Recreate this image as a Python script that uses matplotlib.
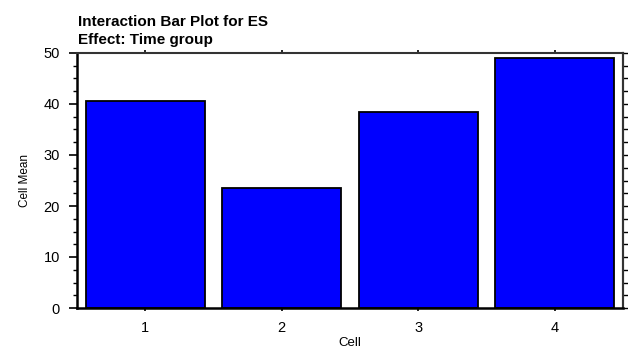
import matplotlib
matplotlib.use("Agg")
import matplotlib.pyplot as plt
from matplotlib.ticker import MultipleLocator

cells = ["1", "2", "3", "4"]
means = [40.55, 23.45, 38.35, 48.95]
yticks = [0, 10, 20, 30, 40, 50]
title_lines = ["Interaction Bar Plot for ES", "Effect: Time group"]

plt.rcParams['font.family'] = ['Liberation Sans', 'DejaVu Sans']

W, H = 628, 350
fig = plt.figure(figsize=(W/100, H/100), dpi=100)
ax = fig.add_axes([77/W, 42/H, 546/W, 255/H])
x = list(range(1, len(cells) + 1))
ax.bar(x, means, width=0.87, color="#0000ff", edgecolor="black", linewidth=1.3)
ax.set_xlim(0.5, 4.5)
ax.set_ylim(0, 50)
ax.set_xticks(x)
ax.set_xticklabels(cells)
ax.set_yticks(yticks)
ax.yaxis.set_minor_locator(MultipleLocator(2.5))
ax.tick_params(axis='y', which='major', direction='out', length=5.8, width=1.2,
               labelsize=10.5, left=True, right=False, pad=6.5)
ax.tick_params(axis='y', which='minor', direction='out', length=3, width=1.0,
               left=True, right=False)
ax.tick_params(axis='x', which='major', direction='out', length=2.5, width=1.2,
               labelsize=10.5, top=True, bottom=True, pad=6.5)
sec = ax.secondary_yaxis('right')
sec.set_yticks(yticks)
sec.yaxis.set_minor_locator(MultipleLocator(2.5))
sec.tick_params(axis='y', which='both', direction='out', length=3.6, width=1.0,
                labelright=False)
sec.spines['right'].set_linewidth(1.5)
sec.spines['right'].set_color('#333333')
for s in ['left', 'bottom']:
    ax.spines[s].set_linewidth(1.8)
    ax.spines[s].set_color('black')
for s in ['top', 'right']:
    ax.spines[s].set_linewidth(1.5)
    ax.spines[s].set_color('#333333')
ax.set_xlabel("Cell", fontsize=9.5, labelpad=2)
ax.set_ylabel("Cell Mean", fontsize=8.5, labelpad=9)
fig.text(78/W, 1 - 26/H, title_lines[0], fontsize=11, fontweight='bold',
         ha='left', va='baseline')
fig.text(78/W, 1 - 44/H, title_lines[1], fontsize=11, fontweight='bold',
         ha='left', va='baseline')
fig.savefig("out.png", dpi=100)
